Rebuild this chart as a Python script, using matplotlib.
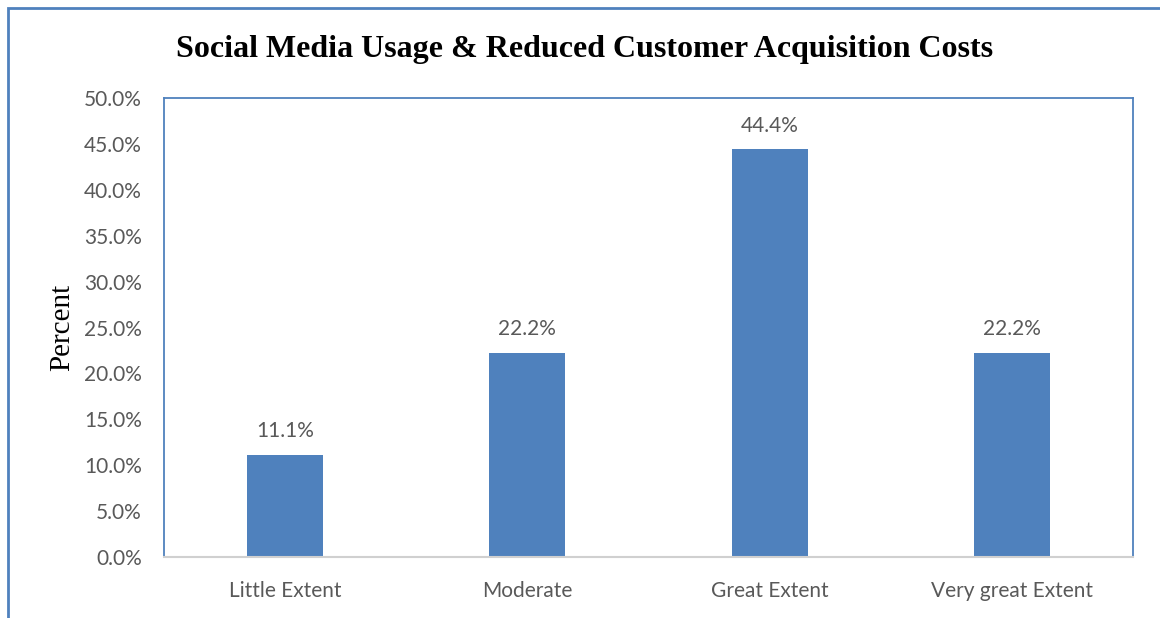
import matplotlib
matplotlib.use("Agg")
import matplotlib.pyplot as plt
from matplotlib.patches import Rectangle
from matplotlib.ticker import FuncFormatter, MultipleLocator

categories = ["Little Extent", "Moderate", "Great Extent", "Very great Extent"]
percent = [11.1, 22.2, 44.4, 22.2]

bar_color = "#4F81BD"
frame_color = "#4F81BD"
text_gray = "#595959"
label_font = ["Lato", "DejaVu Sans"]
serif_font = ["Liberation Serif", "DejaVu Serif"]

fig = plt.figure(figsize=(11.6, 6.18), dpi=100)
ax = fig.add_axes([164 / 1160, 1 - 557 / 618, (1133 - 164) / 1160, (557 - 98) / 618])

x = range(len(categories))
bars = ax.bar(x, percent, width=0.314, color=bar_color, zorder=2)

for b, v in zip(bars, percent):
    ax.annotate(f"{v:.1f}%", (b.get_x() + b.get_width() / 2, v),
                xytext=(0, 10), textcoords="offset points",
                ha="center", va="bottom", fontsize=15, color=text_gray,
                family=label_font)

ax.set_xlim(-0.5, len(categories) - 0.5)
ax.set_ylim(0, 50)
ax.yaxis.set_major_locator(MultipleLocator(5))
ax.yaxis.set_major_formatter(FuncFormatter(lambda v, _: f"{v:.1f}%"))
ax.set_xticks(list(x))
ax.set_xticklabels(categories)

ax.tick_params(axis="both", length=0, labelsize=15, labelcolor=text_gray)
ax.tick_params(axis="y", pad=16)
ax.tick_params(axis="x", pad=17)
for lbl in ax.get_xticklabels() + ax.get_yticklabels():
    lbl.set_family(label_font)

for side in ["left", "top", "right"]:
    ax.spines[side].set_color(frame_color)
    ax.spines[side].set_linewidth(1.3)
ax.spines["bottom"].set_color("#D0D0D0")
ax.spines["bottom"].set_linewidth(1.5)

ax.set_ylabel("Percent", fontsize=21, family=serif_font, color="black", labelpad=6)

fig.text(585 / 1160, 1 - 50 / 618, "Social Media Usage & Reduced Customer Acquisition Costs",
         ha="center", va="center", fontsize=23, fontweight="bold", family=serif_font)

# outer chart frame, running off the right and bottom edges
fig.add_artist(Rectangle((7.5 / 1160, -0.05), 1.1, 1.05 - 8 / 618,
                         transform=fig.transFigure, fill=False,
                         edgecolor=frame_color, linewidth=2))

fig.savefig("out.png", dpi=100)
